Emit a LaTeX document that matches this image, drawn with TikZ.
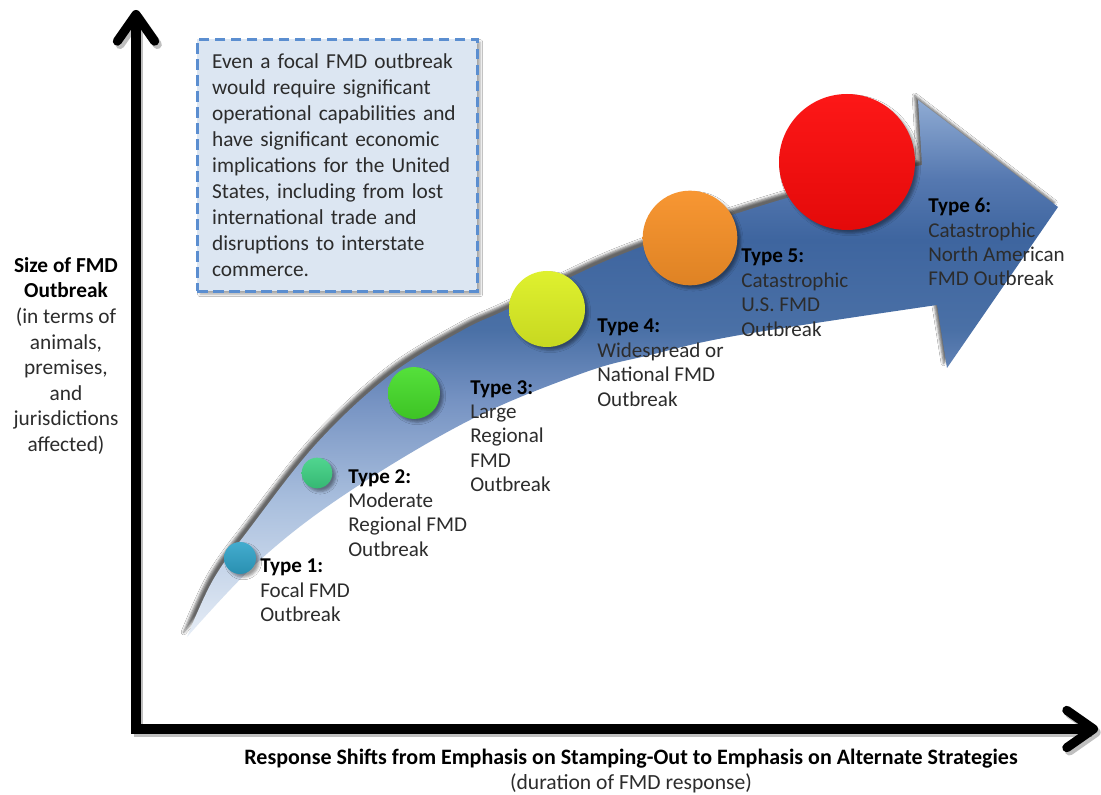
\documentclass[tikz,border=0pt]{standalone}
\usepackage{fontspec}
\setmainfont{Carlito}
\usepackage{xcolor}
\usetikzlibrary{arrows.meta,shadows.blur,positioning}

\definecolor{boxfill}{HTML}{DCE6F2}
\definecolor{boxline}{HTML}{5B8ED0}
\definecolor{txtgray}{HTML}{2C2C2C}
\definecolor{typeone}{HTML}{2FA3C9}
\definecolor{typetwo}{HTML}{3DD183}
\definecolor{typethree}{HTML}{46DE2A}
\definecolor{typefour}{HTML}{DDF024}
\definecolor{typefive}{HTML}{F79128}
\definecolor{typesix}{HTML}{FD0B0B}
\definecolor{bandA}{HTML}{8FABD3}
\definecolor{bandB}{HTML}{5578B0}
\definecolor{bandC}{HTML}{3E659F}
\definecolor{bandD}{HTML}{4A70A6}
\definecolor{bandE}{HTML}{7592C2}
\definecolor{bandF}{HTML}{A8BEDD}
\definecolor{bandG}{HTML}{E6EDF6}

\pgfdeclareverticalshading{bandshade}{100bp}{color(0bp)=(bandG); color(25bp)=(bandG);
  color(37.8bp)=(bandF); color(47.1bp)=(bandE); color(53.6bp)=(bandD);
  color(62bp)=(bandC); color(67.6bp)=(bandB); color(75bp)=(bandA); color(100bp)=(bandA)}

\tikzset{
  band/.style={shading=bandshade, blur shadow={shadow xshift=-2.5pt, shadow yshift=3.5pt, shadow opacity=60}},
  ball/.style={circle, inner sep=0pt, minimum size=#1},
  infobox/.style={draw=boxline, fill=boxfill, line width=2.2pt, dash pattern=on 8pt off 4pt,
    anchor=north west, align=left, text width=188pt, minimum height=189pt, inner xsep=11pt, inner ysep=6pt,
    text=txtgray, font=\fontsize{16}{19.5}\selectfont,
    blur shadow={shadow xshift=2pt, shadow yshift=-2pt, shadow opacity=35}},
  typelbl/.style={anchor=north west, align=left, inner sep=0pt, text=txtgray,
    font=\fontsize{15.8}{18.3}\selectfont},
  axis/.style={line width=6.8pt, line join=miter,
    {Straight Barb[length=20pt,width=28pt,line cap=round,line join=round]}-{Straight Barb[length=20pt,width=28pt,line cap=round,line join=round]}},
  axisshadow/.style={axis, draw=black, opacity=.25}
}

\begin{document}
\begin{tikzpicture}[x=0.75pt,y=-0.75pt]
  \useasboundingbox (0,0) rectangle (1101,795);
  \fill[white] (0,0) rectangle (1101,795);

  \shade[band] plot[smooth, tension=0.6] coordinates {(187,637) (213,580) (250,528) (317,443) (390,375) (463,330) (510,308) (620,255) (780,200) (922,165)}
    -- (918,100) -- (1058,207) -- (947,368) -- (937,305)
    -- plot[smooth, tension=0.6] coordinates {(937,305) (740,335) (650,355) (583,373) (470,420) (347,493) (260,560) (187,637)} -- cycle;

  \node[ball=24pt, top color=typeone!90!white, bottom color=typeone!88!black, blur shadow] (c1) at (240,558) {};
  \node[ball=23pt, top color=typetwo!90!white, bottom color=typetwo!88!black, blur shadow] (c2) at (317,473) {};
  \node[ball=39pt, top color=typethree!92!white, bottom color=typethree!88!black, blur shadow] (c3) at (414,393) {};
  \node[ball=57pt, top color=typefour!95!white, bottom color=typefour!90!black, blur shadow] (c4) at (547,309) {};
  \node[ball=71pt, top color=typefive!95!white, bottom color=typefive!90!black, blur shadow] (c5) at (690,238) {};
  \node[ball=102pt, top color=typesix!95!white, bottom color=typesix!90!black, blur shadow] (c6) at (847,162) {};

  \node[typelbl] (l1) at (260,559) {\textcolor{black}{\textbf{Type 1:}}\\Focal FMD\\Outbreak};
  \node[typelbl] (l2) at (348,469) {\textcolor{black}{\textbf{Type 2:}}\\Moderate\\Regional FMD\\Outbreak};
  \node[typelbl] (l3) at (470,380) {\textcolor{black}{\textbf{Type 3:}}\\Large\\Regional\\FMD\\Outbreak};
  \node[typelbl] (l4) at (597,319) {\textcolor{black}{\textbf{Type 4:}}\\Widespread or\\National FMD\\Outbreak};
  \node[typelbl] (l5) at (741,249) {\textcolor{black}{\textbf{Type 5:}}\\Catastrophic\\U.S. FMD\\Outbreak};
  \node[typelbl] (l6) at (928,198) {\textcolor{black}{\textbf{Type 6:}}\\Catastrophic\\North American\\FMD Outbreak};

  \node[infobox] (info) at (196,38) {Even a focal FMD outbreak\\would require significant\\operational capabilities and\\have significant economic\\implications for the United\\States, including from lost\\international trade and\\disruptions to interstate\\commerce.};

  \coordinate (origin) at (136,729);
  \coordinate (ytip) at (136,10);
  \coordinate (xtip) at (1098,729);
  \draw[axisshadow, transform canvas={shift={(2pt,-2.5pt)}}] (ytip) -- (origin) -- (xtip);
  \draw[axis] (ytip) -- (origin) -- (xtip);

  \node[anchor=north, align=center, inner sep=0pt, text=txtgray, font=\fontsize{16}{19.2}\selectfont] (ylabel) at (66,257)
    {\textcolor{black}{\textbf{Size of FMD}}\\\textcolor{black}{\textbf{Outbreak}}\\(in terms of\\animals,\\premises,\\and\\jurisdictions\\affected)};
  \node[anchor=north, align=center, inner sep=0pt, text=txtgray, font=\fontsize{16.2}{18.8}\selectfont] (xlabel) at (631,749)
    {\textcolor{black}{\textbf{\fontsize{16.5}{18.8}\selectfont Response Shifts from Emphasis on Stamping-Out to Emphasis on Alternate Strategies}}\\(duration of FMD response)};
\end{tikzpicture}
\end{document}
